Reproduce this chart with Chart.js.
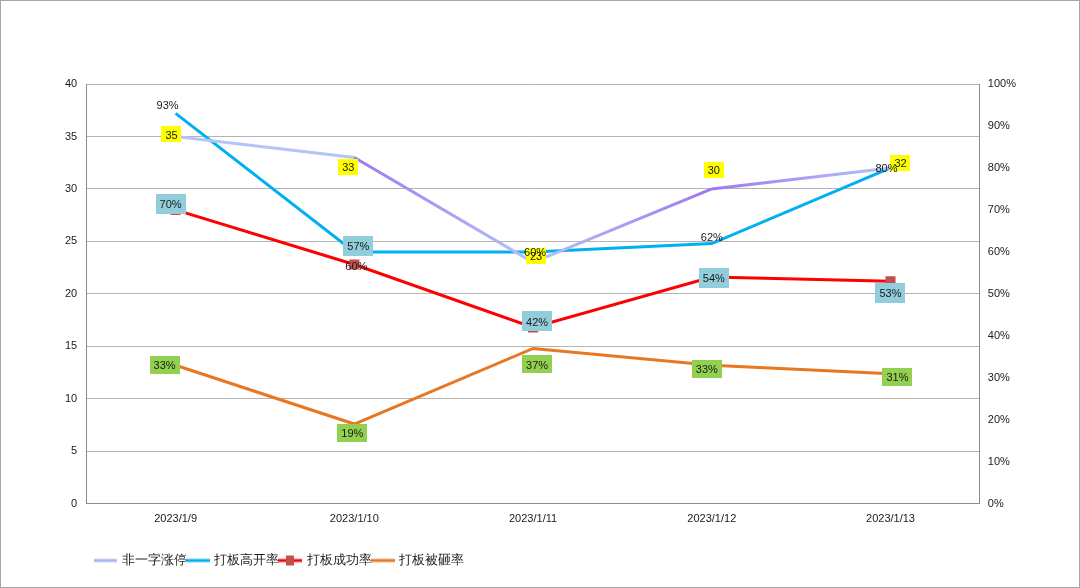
<!DOCTYPE html>
<html>
<head>
<meta charset="utf-8">
<script src="https://cdn.jsdelivr.net/npm/chart.js@4.4.1/dist/chart.umd.min.js"></script>
<style>
  html, body { margin: 0; padding: 0; background: #fff; }
  #wrap { position: relative; width: 1078px; height: 586px; border: 1px solid #a6a6a6; }
</style>
</head>
<body>
<div id="wrap"><canvas id="chart" width="1078" height="586"></canvas></div>
<script>
// ── Dados ──────────────────────────────────────────────────────
const datas        = ['2023/1/9', '2023/1/10', '2023/1/11', '2023/1/12', '2023/1/13'];
const naoYiZi      = [35, 33, 23, 30, 32];          // 非一字涨停 (eixo esquerdo)
const altaAbertura = [93, 60, 60, 62, 80];          // 打板高开率 (%)
const sucesso      = [70, 57, 42, 54, 53];          // 打板成功率 (%)
const quebra       = [33, 19, 37, 33, 31];          // 打板被砸率 (%)
const ticksEsq     = [0, 5, 10, 15, 20, 25, 30, 35, 40];

const FONTE = '"Liberation Sans", Arial, sans-serif';

// ícone de legenda: linha, opcionalmente com quadrado no meio
function iconeLegenda(cor, marcador) {
  const c = document.createElement('canvas');
  c.width = 24; c.height = 12;
  const g = c.getContext('2d');
  g.strokeStyle = cor; g.lineWidth = 3;
  g.beginPath(); g.moveTo(0, 6); g.lineTo(24, 6); g.stroke();
  if (marcador) { g.fillStyle = marcador; g.fillRect(8, 1, 8, 10); }
  return c;
}

// gradiente do 非一字涨停 por segmento
const CLARO = '#b3c5f7', ROXO = '#9f78ef';
const tonsSeg = [[CLARO, CLARO], [ROXO, CLARO], [CLARO, ROXO], [ROXO, CLARO]];
function corSegmento(ctx) {
  const { p0, p1, p0DataIndex } = ctx;
  const g = ctx.chart.ctx.createLinearGradient(p0.x, p0.y, p1.x, p1.y);
  const [a, b] = tonsSeg[p0DataIndex] || [CLARO, CLARO];
  g.addColorStop(0, a); g.addColorStop(1, b);
  return g;
}

// rótulos estilo Excel (caixa colorida opcional, deslocamento por ponto)
const rotulosPlugin = {
  id: 'rotulos',
  afterDatasetsDraw(chart) {
    const g = chart.ctx;
    g.save();
    g.font = '11px ' + FONTE;
    g.textAlign = 'center';
    g.textBaseline = 'middle';
    chart.data.datasets.forEach((ds, i) => {
      const meta = chart.getDatasetMeta(i);
      meta.data.forEach((pt, j) => {
        const txt = ds.sufixo ? ds.data[j] + ds.sufixo : String(ds.data[j]);
        const [dx, dy] = (ds.rotuloDesloc && ds.rotuloDesloc[j]) || [0, 0];
        const x = pt.x + dx;
        const y = pt.y + dy;
        if (ds.caixa) {
          const w = g.measureText(txt).width + 8;
          const h = ds.caixaAlt || 18;
          g.fillStyle = ds.caixa;
          g.fillRect(Math.round(x - w / 2), Math.round(y - h / 2), Math.round(w), h);
        }
        g.fillStyle = '#1a1a1a';
        g.fillText(txt, x, y + 1);
      });
    });
    g.restore();
  }
};

// empurra a legenda para a direita, como no original
const legendaDesloc = {
  id: 'legendaDesloc',
  afterLayout(chart) {
    if (chart.legend) { chart.legend.left += 38; chart.legend.right += 38; }
  }
};

new Chart(document.getElementById('chart'), {
  type: 'line',
  data: {
    labels: datas,
    datasets: [
      { label: '非一字涨停', data: naoYiZi, yAxisID: 'y',
        borderColor: CLARO, borderWidth: 3, pointRadius: 0, tension: 0,
        segment: { borderColor: corSegmento },
        caixa: '#ffff00', caixaAlt: 16,
        rotuloDesloc: [[-4, -2], [-6, 10], [3, -6], [2, -19], [10, -5]],
        icone: iconeLegenda('#a9b4f8') },
      { label: '打板高开率', data: altaAbertura, yAxisID: 'y1',
        borderColor: '#00b0f0', borderWidth: 3, pointRadius: 0, tension: 0,
        sufixo: '%',
        rotuloDesloc: [[-8, -8], [2, 14], [2, 0], [0, -7], [-4, 0]],
        icone: iconeLegenda('#00b0f0') },
      { label: '打板成功率', data: sucesso, yAxisID: 'y1',
        borderColor: '#ff0000', borderWidth: 3, tension: 0,
        pointStyle: 'rect', pointRadius: 5, pointBackgroundColor: '#c0504d', pointBorderColor: '#c0504d',
        sufixo: '%', caixa: '#92cddc', caixaAlt: 20,
        rotuloDesloc: [[-5, -6], [4, -19], [4, -6], [2, 1], [0, 12]],
        icone: iconeLegenda('#ff0000', '#c0504d') },
      { label: '打板被砸率', data: quebra, yAxisID: 'y1',
        borderColor: '#e87722', borderWidth: 3, pointRadius: 0, tension: 0,
        sufixo: '%', caixa: '#92d050', caixaAlt: 18,
        rotuloDesloc: [[-11, 0], [-2, 9], [4, 16], [-5, 4], [7, 3]],
        icone: iconeLegenda('#e87722') }
    ]
  },
  options: {
    responsive: false,
    animation: false,
    layout: { padding: { left: 55, right: 59, top: 83, bottom: 10 } },
    plugins: {
      legend: {
        position: 'bottom', align: 'start',
        labels: {
          font: { family: FONTE, size: 13 }, color: '#1a1a1a',
          boxWidth: 20, padding: 1,
          usePointStyle: true, pointStyleWidth: 20,
          generateLabels: chart => chart.data.datasets.map((ds, i) => ({
            text: ds.label, pointStyle: ds.icone, datasetIndex: i,
            fontColor: '#1a1a1a', lineWidth: 0, strokeStyle: 'transparent', fillStyle: 'transparent'
          }))
        }
      },
      tooltip: { enabled: false }
    },
    scales: {
      x: {
        offset: true,
        afterFit: axis => { axis.height += 18; },
        grid: { display: false, drawTicks: false, offset: true },
        border: { color: '#8c8c8c' },
        ticks: { font: { family: FONTE, size: 11 }, color: '#1a1a1a', padding: 9 }
      },
      y: {
        position: 'left', min: 0, max: 40,
        afterBuildTicks: axis => { axis.ticks = ticksEsq.map(v => ({ value: v })); },
        grid: { color: '#b4b4b4', drawTicks: false },
        border: { color: '#8c8c8c' },
        ticks: { font: { family: FONTE, size: 11 }, color: '#1a1a1a', padding: 9 }
      },
      y1: {
        position: 'right', min: 0, max: 100,
        grid: { display: false, drawTicks: true, tickLength: 4, color: '#8c8c8c' },
        border: { color: '#8c8c8c' },
        ticks: { stepSize: 10, font: { family: FONTE, size: 11 }, color: '#1a1a1a', padding: 4,
                 callback: v => v + '%' }
      }
    }
  },
  plugins: [rotulosPlugin, legendaDesloc]
});
</script>
</body>
</html>
